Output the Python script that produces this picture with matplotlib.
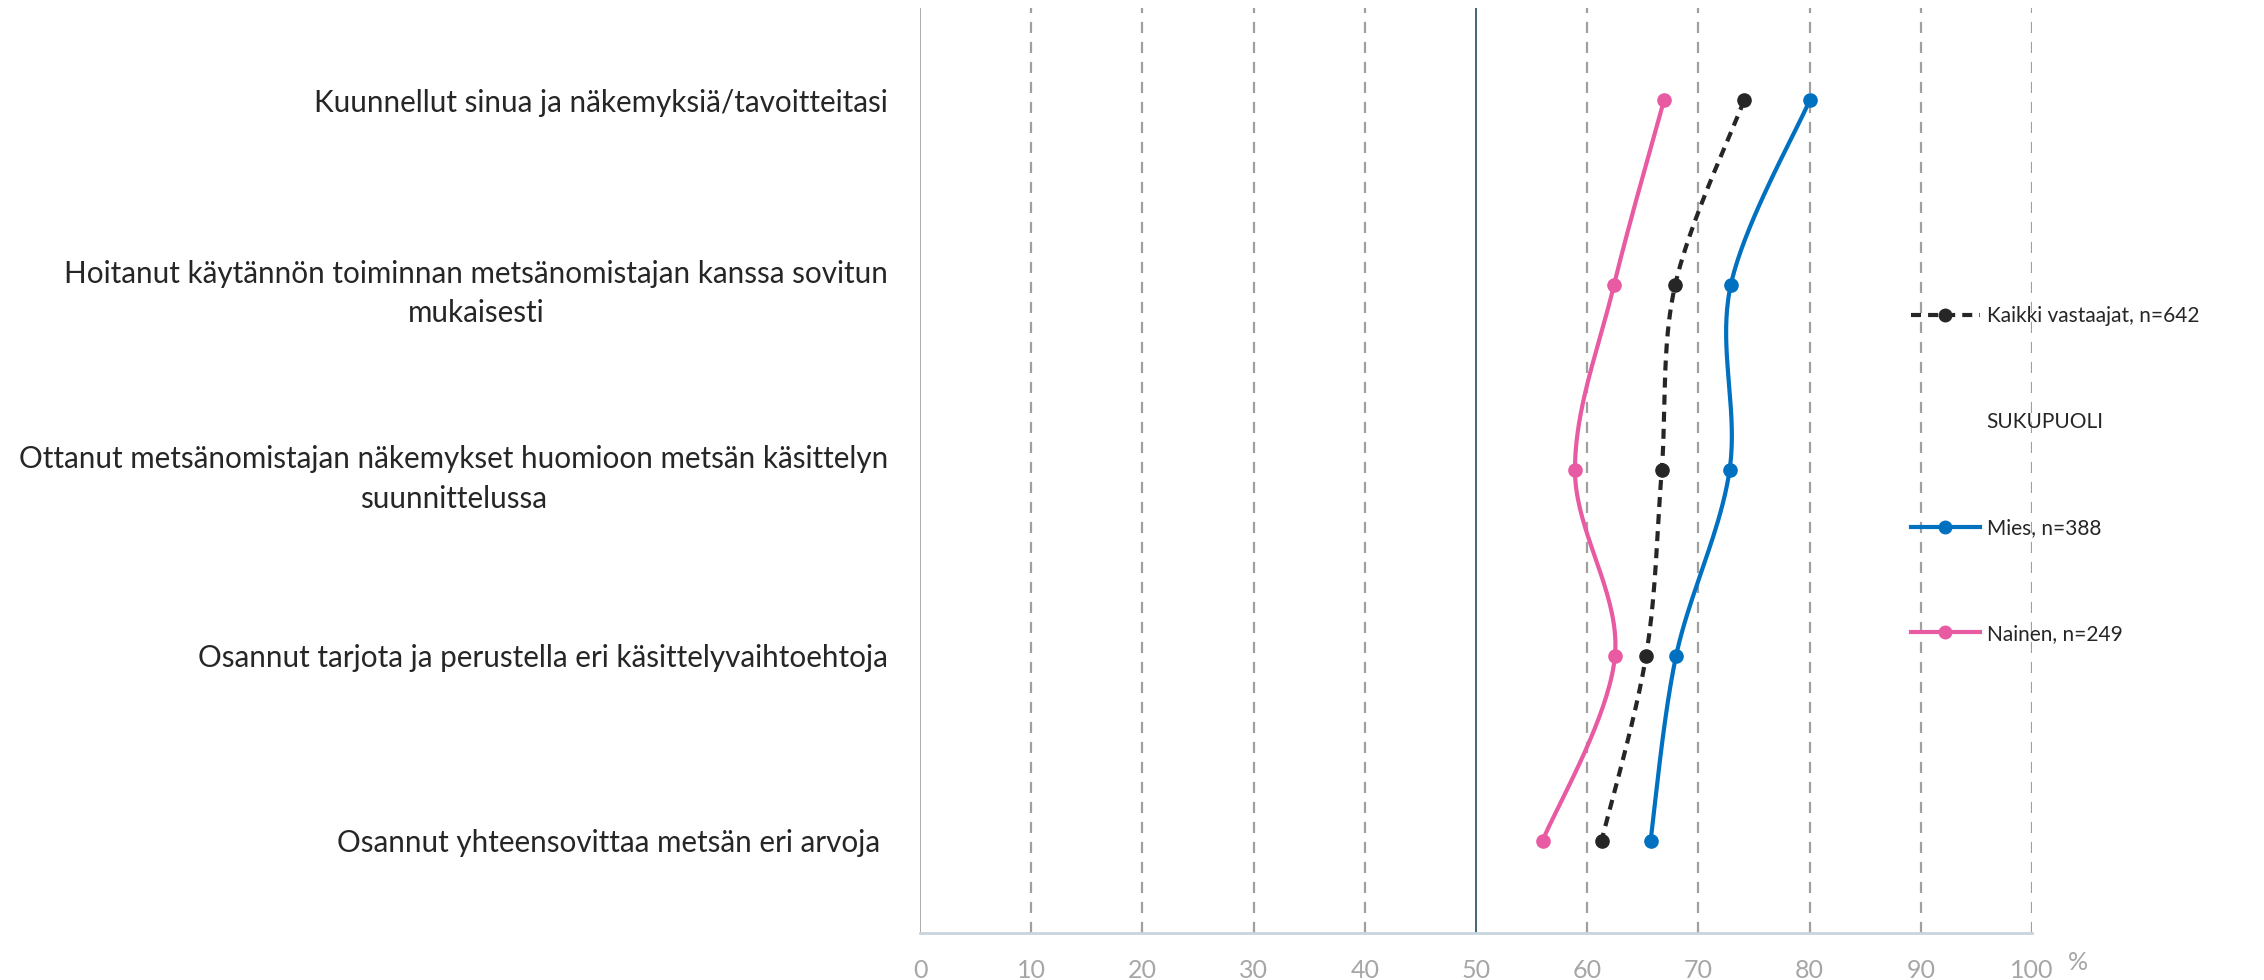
import matplotlib
matplotlib.use("Agg")
import matplotlib.pyplot as plt
from matplotlib.lines import Line2D
import numpy as np

plt.rcParams['font.family'] = ['Lato', 'DejaVu Sans']

categories = [
    "Kuunnellut sinua ja näkemyksiä/tavoitteitasi",
    "Hoitanut käytännön toiminnan metsänomistajan kanssa sovitun\nmukaisesti",
    "Ottanut metsänomistajan näkemykset huomioon metsän käsittelyn\nsuunnittelussa",
    "Osannut tarjota ja perustella eri käsittelyvaihtoehtoja",
    "Osannut yhteensovittaa metsän eri arvoja ",
]
kaikki = [74.1, 67.9, 66.7, 65.3, 61.3]
mies = [80.0, 72.9, 72.8, 68.0, 65.7]
nainen = [66.9, 62.4, 58.9, 62.5, 56.0]
xticks = [0, 10, 20, 30, 40, 50, 60, 70, 80, 90, 100]

C_ALL = "#262626"
C_MIES = "#0070C0"
C_NAINEN = "#E85AA2"
DASH = (0, (2.4, 1.7))


def smooth(xs, ys, n=40):
    # Excel-like smoothed line (Catmull-Rom as cubic Bezier)
    p = np.column_stack([xs, ys]).astype(float)
    p = np.vstack([p[0], p, p[-1]])
    out = []
    for i in range(1, len(p) - 2):
        p0, p1, p2, p3 = p[i - 1], p[i], p[i + 1], p[i + 2]
        c1 = p1 + (p2 - p0) / 6
        c2 = p2 - (p3 - p1) / 6
        t = np.linspace(0, 1, n)[:, None]
        seg = ((1 - t) ** 3) * p1 + 3 * ((1 - t) ** 2) * t * c1 + 3 * (1 - t) * t ** 2 * c2 + t ** 3 * p2
        out.append(seg if i == 1 else seg[1:])
    s = np.vstack(out)
    return s[:, 0], s[:, 1]


fig = plt.figure(figsize=(22.64, 9.8), dpi=100)
ax = fig.add_axes([920 / 2264, 47 / 980, 1112 / 2264, 925 / 980])

ypos = np.arange(len(categories))

for x in xticks[1:]:
    if x == 50:
        ax.axvline(x, color="#35596A", lw=1.3, zorder=1)
    else:
        ax.axvline(x, color="#A0A0A0", lw=1.6, ls=(0, (5, 4)), zorder=1)
ax.axvline(0, color="#A6A6A6", lw=1.3, zorder=1)

series = [
    (nainen, C_NAINEN, "-"),
    (mies, C_MIES, "-"),
    (kaikki, C_ALL, DASH),
]
for vals, col, ls in series:
    sx, sy = smooth(vals, ypos)
    ax.plot(sx, sy, color=col, lw=3, ls=ls, zorder=3)
    ax.plot(vals, ypos, "o", color=col, ms=9.5, zorder=4)

ax.set_xlim(0, 100)
ax.set_ylim(len(categories) - 0.5, -0.5)
ax.set_xticks(xticks)
ax.set_xticklabels([str(v) for v in xticks], fontsize=18, color="#A6A6A6")
ax.set_yticks(ypos)
ax.set_yticklabels(categories, fontsize=21.3, color="#262626",
                   multialignment="center", linespacing=1.5)
ax.tick_params(axis="both", length=0)
ax.tick_params(axis="x", pad=19)
ax.tick_params(axis="y", pad=23)
for s in ["top", "right", "left"]:
    ax.spines[s].set_visible(False)
ax.spines["bottom"].set_color("#C9D5DC")
ax.spines["bottom"].set_linewidth(2)

fig.text(2078 / 2264, 1 - 962 / 980, "%", fontsize=18, color="#A6A6A6", ha="center", va="center")

handles = [
    Line2D([], [], color=C_ALL, lw=3, ls=DASH, marker="o", ms=9),
    Line2D([], [], color="none"),
    Line2D([], [], color=C_MIES, lw=3, marker="o", ms=9),
    Line2D([], [], color=C_NAINEN, lw=3, marker="o", ms=9),
]
labels = ["Kaikki vastaajat, n=642", "SUKUPUOLI", "Mies, n=388", "Nainen, n=249"]
fig.legend(handles, labels, loc="center left", bbox_to_anchor=(1911 / 2264, 1 - 475 / 980),
           frameon=False, fontsize=15, handlelength=3.3, handletextpad=0.33,
           labelspacing=4.12, borderpad=0, borderaxespad=0, labelcolor="#262626")

fig.savefig("out.png", dpi=100)
